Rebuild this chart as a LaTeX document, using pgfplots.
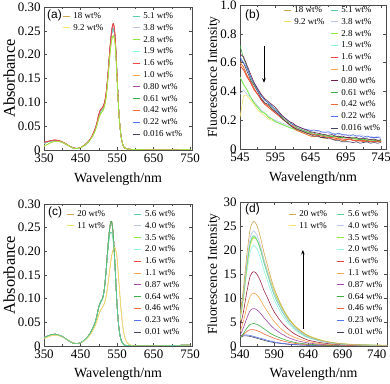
\documentclass[border=0pt]{standalone}
\usepackage{fontspec}
\setmainfont{Liberation Serif}
\newfontfamily\arial{Liberation Sans}
\usepackage{pgfplots}
\usepackage{pgfplotstable}
\pgfplotsset{compat=1.18}
\usetikzlibrary{arrows.meta}

\definecolor{c18}{HTML}{D0A850}
\definecolor{c92}{HTML}{F5E06A}
\definecolor{c51}{HTML}{5CCFA0}
\definecolor{c38}{HTML}{BCC4EE}
\definecolor{c28}{HTML}{8EEA3A}
\definecolor{c19}{HTML}{8EF5DC}
\definecolor{c16}{HTML}{EE4444}
\definecolor{c10}{HTML}{F7A54E}
\definecolor{c080}{HTML}{A84AAA}
\definecolor{cmaroon}{HTML}{6E2050}
\definecolor{cd16}{HTML}{A02A48}
\definecolor{c061}{HTML}{3DAE48}
\definecolor{c042}{HTML}{EE6A3A}
\definecolor{c022}{HTML}{5272EE}
\definecolor{c0016}{HTML}{454560}

% (a) absorbance, three groups of nearly equal spectra
\pgfplotstableread{
x a1 a2 a3
350 .016 .014 .008
360 .018 .017 .012
370 .020 .019 .016
380 .021 .020 .018
390 .020 .019 .018
400 .017 .016 .016
410 .013 .012 .012
420 .008 .008 .008
430 .005 .004 .004
440 .003 .003 .003
450 .005 .005 .005
460 .010 .009 .009
470 .017 .016 .016
480 .027 .026 .025
490 .045 .043 .040
495 .058 .055 .052
500 .075 .071 .066
505 .085 .081 .076
510 .089 .085 .081
515 .098 .094 .090
520 .120 .115 .110
525 .160 .155 .148
530 .210 .205 .195
535 .250 .243 .230
540 .265 .255 .240
545 .235 .228 .218
550 .155 .152 .148
555 .078 .077 .076
560 .034 .034 .034
565 .013 .013 .013
570 .005 .005 .005
580 .002 .002 .002
600 .001 .001 .001
650 0 0 0
700 0 0 0
750 .001 .001 .001
}\tabA

% (b) fluorescence, low intensity
\pgfplotstableread{
x b1 b2 b3 b4 b5 b6 b7 b8 b9
545 .66 .64 .72 .62 .58 .60 .50 .22 .38
550 .64 .60 .63 .60 .55 .57 .45 .37 .41
555 .58 .56 .57 .54 .50 .51 .41 .37 .38
560 .52 .50 .50 .48 .46 .47 .36 .34 .36
565 .46 .46 .45 .44 .41 .42 .32 .31 .33
570 .42 .41 .41 .40 .38 .38 .29 .27 .30
575 .38 .37 .37 .35 .34 .35 .26 .25 .27
580 .35 .34 .34 .32 .31 .32 .25 .23 .25
585 .33 .32 .32 .31 .29 .30 .22 .21 .23
590 .31 .30 .29 .28 .27 .28 .21 .20 .21
595 .29 .27 .28 .26 .25 .26 .19 .19 .20
600 .26 .25 .25 .24 .23 .24 .18 .18 .19
605 .23 .23 .22 .21 .21 .21 .17 .17 .18
610 .21 .21 .20 .19 .19 .19 .16 .16 .17
615 .19 .19 .18 .17 .17 .17 .15 .15 .16
620 .18 .17 .17 .15 .16 .15 .14 .14 .15
625 .16 .16 .15 .14 .14 .13 .135 .13 .14
630 .15 .15 .14 .13 .13 .12 .13 .12 .135
635 .14 .14 .13 .12 .12 .11 .12 .12 .13
640 .13 .135 .12 .11 .11 .10 .115 .11 .125
645 .12 .13 .115 .10 .105 .09 .11 .10 .13
650 .115 .125 .11 .09 .10 .085 .10 .10 .135
655 .11 .13 .10 .09 .095 .09 .10 .09 .12
660 .105 .12 .10 .08 .09 .08 .095 .10 .115
665 .10 .115 .09 .08 .085 .075 .10 .09 .12
670 .095 .12 .09 .07 .08 .08 .09 .085 .11
675 .10 .11 .085 .07 .08 .07 .09 .09 .10
680 .09 .10 .09 .06 .075 .065 .085 .08 .11
685 .085 .11 .08 .06 .07 .07 .09 .08 .10
690 .09 .10 .08 .05 .07 .06 .08 .075 .10
695 .08 .10 .075 .05 .065 .06 .08 .08 .09
700 .08 .09 .08 .05 .07 .07 .075 .07 .10
705 .075 .10 .07 .045 .06 .06 .08 .07 .09
710 .08 .09 .07 .05 .06 .055 .07 .065 .09
715 .07 .09 .065 .04 .055 .06 .07 .07 .10
720 .075 .08 .07 .045 .06 .05 .065 .06 .09
725 .07 .09 .06 .05 .05 .06 .07 .06 .08
730 .065 .08 .065 .04 .055 .05 .06 .06 .09
735 .07 .08 .06 .045 .05 .05 .065 .055 .08
740 .06 .08 .055 .04 .05 .06 .06 .06 .09
745 .065 .075 .06 .045 .05 .05 .06 .05 .08
}\tabB

% (c) absorbance, second series
\pgfplotstableread{
x c1 c2 c3
350 .018 .018 .016
360 .021 .021 .019
370 .024 .024 .022
380 .025 .025 .023
390 .023 .023 .022
400 .020 .020 .019
410 .015 .015 .015
420 .010 .010 .010
430 .006 .006 .007
440 .005 .005 .005
450 .007 .007 .007
460 .012 .012 .011
470 .020 .020 .018
480 .032 .032 .028
490 .050 .050 .043
495 .065 .064 .054
500 .083 .081 .067
505 .093 .091 .076
510 .100 .098 .082
515 .120 .117 .090
520 .160 .155 .105
525 .210 .200 .130
530 .250 .235 .162
535 .263 .240 .190
540 .230 .215 .205
545 .160 .155 .207
550 .085 .085 .185
555 .038 .038 .135
560 .015 .015 .085
565 .006 .006 .045
570 .002 .002 .022
575 .001 .001 .010
580 .001 .001 .005
590 0 0 .001
600 0 0 0
650 0 0 0
700 .001 .001 .001
750 .002 .002 .002
}\tabC

% (d) fluorescence, second series
\pgfplotstableread{
x A B C D E F G H I J K L M
540 6.5 5.2 5.8 6.0 5.7 5.3 3.9 2.9 2.2 1.8 1.9 2.0 1.7
545 12.0 9.8 10.6 11.0 10.4 9.7 7.1 5.2 3.8 2.6 2.4 2.3 2.1
550 19.0 16.0 16.8 17.5 16.6 15.3 11.3 8.1 5.8 3.7 3.0 2.3 2.1
555 24.4 20.8 21.6 22.6 21.3 19.7 14.6 10.4 7.4 4.5 3.4 2.2 2.0
560 26.0 22.5 23.0 24.0 22.7 21.0 15.5 11.0 7.8 4.7 3.4 2.0 1.8
565 25.0 22.0 22.1 23.0 22.0 20.2 14.9 10.6 7.5 4.5 3.2 1.8 1.6
570 22.6 20.4 20.0 20.9 20.2 18.3 13.5 9.6 6.8 4.1 2.9 1.6 1.4
575 19.5 18.0 17.3 18.0 17.6 15.8 11.6 8.3 5.9 3.6 2.5 1.4 1.2
580 16.9 15.8 15.0 15.6 15.4 13.7 10.1 7.2 5.1 3.1 2.2 1.2 1.0
585 14.3 13.6 12.7 13.2 13.2 11.6 8.5 6.1 4.3 2.6 1.9 1.0 0.85
590 12.0 11.6 10.6 11.0 11.2 9.7 7.1 5.1 3.6 2.2 1.6 0.85 0.72
600 8.6 8.5 7.6 7.9 8.2 6.9 5.1 3.6 2.6 1.6 1.15 0.6 0.52
610 6.0 6.1 5.3 5.5 5.8 4.8 3.6 2.5 1.8 1.1 0.8 0.43 0.37
620 4.2 4.3 3.7 3.8 4.1 3.4 2.5 1.8 1.25 0.75 0.55 0.3 0.27
630 3.0 3.1 2.6 2.8 2.9 2.4 1.8 1.3 0.9 0.54 0.4 0.22 0.2
640 2.1 2.2 1.8 1.9 2.1 1.7 1.2 0.9 0.62 0.38 0.28 0.16 0.15
660 1.1 1.2 1.0 1.0 1.1 0.9 0.65 0.46 0.33 0.2 0.15 0.09 0.08
680 0.6 0.65 0.53 0.55 0.6 0.48 0.36 0.25 0.18 0.11 0.08 0.05 0.05
700 0.34 0.38 0.3 0.31 0.35 0.27 0.2 0.14 0.1 0.06 0.05 0.03 0.03
720 0.23 0.26 0.21 0.22 0.24 0.19 0.14 0.1 0.07 0.04 0.03 0.02 0.02
740 0.16 0.18 0.14 0.14 0.16 0.13 0.09 0.07 0.05 0.03 0.02 0.015 0.015
755 0.13 0.15 0.12 0.12 0.13 0.11 0.08 0.06 0.04 0.025 0.02 0.012 0.012
}\tabD

\newcommand\blankleg{\addlegendimage{empty legend}\addlegendentry{}}
\newcommand\leg[2]{\addlegendimage{#1}\addlegendentry{#2 wt\%}}

\pgfplotsset{
  panel/.style={
    scale only axis, anchor=south west,
    tick align=inside, major tick length=3bp, minor tick length=2bp,
    axis line style={black!70}, every tick/.style={black!70, line width=0.4pt},
    ticklabel style={font=\fontsize{13}{13}\selectfont},
    /pgf/number format/assume math mode=true,
    xlabel style={font=\fontsize{14}{14}\selectfont, anchor=center},
    ylabel style={anchor=center},
    xlabel={Wavelength/nm},
    minor x tick num=1,
    every axis plot/.append style={line width=0.6pt, forget plot},
    legend cell align=left,
    legend image code/.code={\draw[##1, line width=0.9pt] (0bp,0bp) -- (7bp,0bp);},
    legend style={draw=none, fill=none, inner sep=0pt, anchor=north west,
      font=\fontsize{9}{9}\selectfont, row sep=2.2bp,
      nodes={inner sep=0.8bp, text height=6.5bp, text depth=1.5bp},
      /tikz/every odd column/.append style={column sep=2.5bp}},
    legend columns=2,
  },
}

\begin{document}
\begin{tikzpicture}
\path[use as bounding box] (0,0) rectangle (390bp,384bp);

% ---------- (a)
\begin{axis}[panel, at={(44bp,234bp)}, width=148bp, height=143bp,
  xmin=350, xmax=755, ymin=0, ymax=0.30,
  xtick={350,450,...,750},
  ytick={0,0.05,0.10,0.15,0.20,0.25,0.30},
  yticklabels={0,0.05,0.10,0.15,0.20,0.25,0.30},
  ylabel={Absorbance},
  ylabel style={font=\fontsize{16.5}{16.5}\selectfont, at={(axis description cs:-0.235,0.5)}},
  xlabel style={at={(axis description cs:0.5,-0.203)}},
  legend style={at={(axis description cs:0.122,0.972)},
    /tikz/every even column/.append style={column sep=28bp}},
]
\addplot[c0016, smooth] table[x=x,y=a2] {\tabA};
\addplot[c022, smooth] table[x=x,y=a2] {\tabA};
\addplot[c061, smooth] table[x=x,y=a2] {\tabA};
\addplot[c19, smooth] table[x=x,y=a2] {\tabA};
\addplot[c38, smooth] table[x=x,y=a2] {\tabA};
\addplot[c51, smooth] table[x=x,y=a2] {\tabA};
\addplot[c042, smooth] table[x=x,y=a1] {\tabA};
\addplot[c10, smooth] table[x=x,y=a1] {\tabA};
\addplot[c080, smooth] table[x=x,y=a1] {\tabA};
\addplot[c16, smooth] table[x=x,y=a1] {\tabA};
\addplot[c18, smooth] table[x=x,y=a3] {\tabA};
\addplot[c92, smooth] table[x=x,y=a3] {\tabA};
\addplot[c28, smooth] table[x=x,y=a3] {\tabA};
\leg{c18}{18}\leg{c51}{5.1}
\leg{c92}{9.2}\leg{c38}{3.8}
\blankleg\leg{c28}{2.8}
\blankleg\leg{c19}{1.9}
\blankleg\leg{c16}{1.6}
\blankleg\leg{c10}{1.0}
\blankleg\leg{c080}{0.80}
\blankleg\leg{c061}{0.61}
\blankleg\leg{c042}{0.42}
\blankleg\leg{c022}{0.22}
\blankleg\leg{c0016}{0.016}
\node[font=\arial\fontsize{12}{12}\selectfont, anchor=west, inner sep=0pt]
  at (axis description cs:0.02,0.944) {(a)};
\end{axis}

% ---------- (b)
\begin{axis}[panel, at={(240bp,235bp)}, width=146bp, height=144bp,
  xmin=545, xmax=752, ymin=0, ymax=1.0,
  xtick={545,595,...,745},
  ytick={0,0.2,0.4,0.6,0.8,1.0},
  yticklabels={0,0.2,0.4,0.6,0.8,1.0},
  ylabel={Fluorescence Intensity},
  ylabel style={font=\fontsize{13.5}{13.5}\selectfont, at={(axis description cs:-0.18,0.5)}},
  xlabel style={at={(axis description cs:0.5,-0.201)}},
  legend style={at={(axis description cs:0.295,1.0)},
    /tikz/every even column/.append style={column sep=5bp}},
]
\addplot[c92] table[x=x,y=b8] {\tabB};
\addplot[c38] table[x=x,y=b9] {\tabB};
\addplot[c51] table[x=x,y=b7] {\tabB};
\addplot[c19] table[x=x,y=b7] {\tabB};
\addplot[c28] table[x=x,y=b7] {\tabB};
\addplot[c18] table[x=x,y=b6] {\tabB};
\addplot[c10] table[x=x,y=b5] {\tabB};
\addplot[c042] table[x=x,y=b6] {\tabB};
\addplot[c16] table[x=x,y=b5] {\tabB};
\addplot[c0016] table[x=x,y=b4] {\tabB};
\addplot[c061] table[x=x,y=b3] {\tabB};
\addplot[c022] table[x=x,y=b2] {\tabB};
\addplot[cmaroon] table[x=x,y=b1] {\tabB};
\leg{c18}{18}\leg{c51}{5.1}
\leg{c92}{9.2}\leg{c38}{3.8}
\blankleg\leg{c28}{2.8}
\blankleg\leg{c19}{1.9}
\blankleg\leg{c16}{1.6}
\blankleg\leg{c10}{1.0}
\blankleg\leg{cmaroon}{0.80}
\blankleg\leg{c061}{0.61}
\blankleg\leg{c042}{0.42}
\blankleg\leg{c022}{0.22}
\blankleg\leg{c0016}{0.016}
\draw[-{Stealth[length=4.5bp,width=3.5bp]}, line width=0.6pt] (axis cs:579,0.715) -- (axis cs:579,0.46);
\node[font=\arial\fontsize{12}{12}\selectfont, anchor=west, inner sep=0pt]
  at (axis description cs:0.034,0.93) {(b)};
\end{axis}

% ---------- (c)
\begin{axis}[panel, at={(44bp,38bp)}, width=148bp, height=142bp,
  xmin=350, xmax=755, ymin=0, ymax=0.30,
  xtick={350,450,...,750},
  ytick={0,0.05,0.10,0.15,0.20,0.25,0.30},
  yticklabels={0,0.05,0.10,0.15,0.20,0.25,0.30},
  ylabel={Absorbance},
  ylabel style={font=\fontsize{16.5}{16.5}\selectfont, at={(axis description cs:-0.235,0.5)}},
  xlabel style={at={(axis description cs:0.5,-0.197)}},
  legend style={at={(axis description cs:0.149,0.965)},
    /tikz/every even column/.append style={column sep=28bp}},
]
\addplot[c0016, smooth] table[x=x,y=c1] {\tabC};
\addplot[c022, smooth] table[x=x,y=c1] {\tabC};
\addplot[c042, smooth] table[x=x,y=c1] {\tabC};
\addplot[c080, smooth] table[x=x,y=c1] {\tabC};
\addplot[c10, smooth] table[x=x,y=c1] {\tabC};
\addplot[c16, smooth] table[x=x,y=c1] {\tabC};
\addplot[c19, smooth] table[x=x,y=c1] {\tabC};
\addplot[c28, smooth] table[x=x,y=c1] {\tabC};
\addplot[c38, smooth] table[x=x,y=c1] {\tabC};
\addplot[c061, smooth] table[x=x,y=c1] {\tabC};
\addplot[c18, smooth] table[x=x,y=c3] {\tabC};
\addplot[c92, smooth] table[x=x,y=c3] {\tabC};
\addplot[c51, smooth] table[x=x,y=c2] {\tabC};
\leg{c18}{20}\leg{c51}{5.6}
\leg{c92}{11}\leg{c38}{4.0}
\blankleg\leg{c28}{3.5}
\blankleg\leg{c19}{2.0}
\blankleg\leg{c16}{1.6}
\blankleg\leg{c10}{1.1}
\blankleg\leg{c080}{0.87}
\blankleg\leg{c061}{0.64}
\blankleg\leg{c042}{0.46}
\blankleg\leg{c022}{0.23}
\blankleg\leg{c0016}{0.01}
\node[font=\arial\fontsize{12}{12}\selectfont, anchor=west, inner sep=0pt]
  at (axis description cs:0.027,0.944) {(c)};
\end{axis}

% ---------- (d)
\begin{axis}[panel, at={(240bp,38bp)}, width=147bp, height=144bp,
  xmin=540, xmax=755, ymin=0, ymax=30,
  xtick={540,590,...,740},
  ytick={0,5,...,30},
  ylabel={Fluorescence Intensity},
  ylabel style={font=\fontsize{13.5}{13.5}\selectfont, at={(axis description cs:-0.18,0.5)}},
  xlabel style={at={(axis description cs:0.5,-0.194)}},
  legend style={at={(axis description cs:0.327,0.951)},
    /tikz/every even column/.append style={column sep=9bp}},
]
\addplot[c0016, smooth] table[x=x,y=M] {\tabD};
\addplot[c022, smooth] table[x=x,y=L] {\tabD};
\addplot[c042, smooth] table[x=x,y=K] {\tabD};
\addplot[c061, smooth] table[x=x,y=J] {\tabD};
\addplot[c080, smooth] table[x=x,y=I] {\tabD};
\addplot[c10, smooth] table[x=x,y=H] {\tabD};
\addplot[cd16, smooth] table[x=x,y=G] {\tabD};
\addplot[c19, smooth] table[x=x,y=F] {\tabD};
\addplot[c92, smooth] table[x=x,y=B] {\tabD};
\addplot[c28, smooth] table[x=x,y=E] {\tabD};
\addplot[c51, smooth] table[x=x,y=C] {\tabD};
\addplot[c38, smooth] table[x=x,y=D] {\tabD};
\addplot[c18, smooth] table[x=x,y=A] {\tabD};
\leg{c18}{20}\leg{c51}{5.6}
\leg{c92}{11}\leg{c38}{4.0}
\blankleg\leg{c28}{3.5}
\blankleg\leg{c19}{2.0}
\blankleg\leg{c16}{1.6}
\blankleg\leg{c10}{1.1}
\blankleg\leg{c080}{0.87}
\blankleg\leg{c061}{0.64}
\blankleg\leg{c042}{0.46}
\blankleg\leg{c022}{0.23}
\blankleg\leg{c0016}{0.01}
\draw[-{Stealth[length=4.5bp,width=3.5bp]}, line width=0.6pt] (axis cs:632,3.5) -- (axis cs:632,20);
\node[font=\arial\fontsize{12}{12}\selectfont, anchor=west, inner sep=0pt]
  at (axis description cs:0.034,0.951) {(d)};
\end{axis}
\end{tikzpicture}
\end{document}
